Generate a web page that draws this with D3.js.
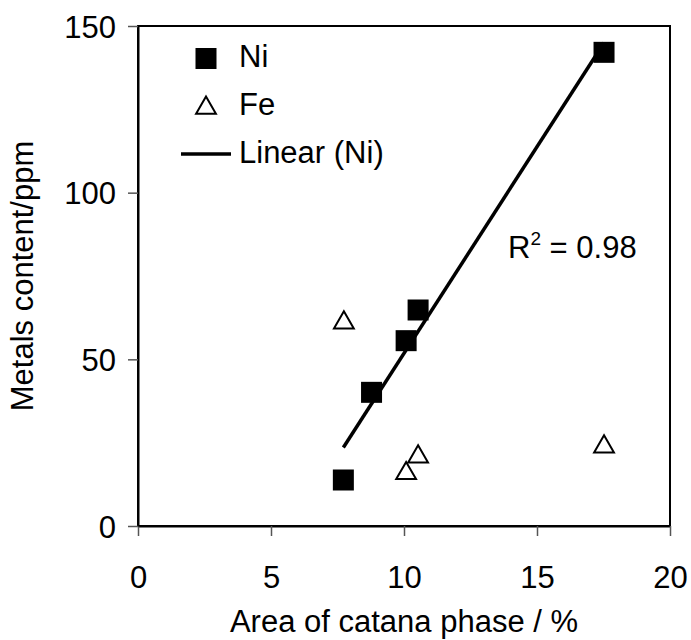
<!DOCTYPE html>
<html>
<head>
<meta charset="utf-8">
<script src="https://cdn.jsdelivr.net/npm/d3@7"></script>
<style>
  body { margin: 0; background: #fff; }
  text { font-family: "Liberation Sans", Arial, sans-serif; fill: #000; }
</style>
</head>
<body>
<div id="chart"></div>
<script>
// values
const niArea = [7.72, 8.78, 10.08, 10.53, 17.52];
const niContent = [13.8, 40.1, 55.6, 64.8, 142.1];
const feArea = [7.74, 10.08, 10.53, 17.52];
const feContent = [61, 15.8, 20.8, 23.8];
const xTicks = [0, 5, 10, 15, 20];
const yTicks = [0, 50, 100, 150];
const legendLabels = ["Ni", "Fe", "Linear (Ni)"];

const config = { width: 691, height: 640, left: 138, right: 670, top: 26, bottom: 526, font: 31 };

const svg = d3.select("#chart").append("svg")
  .attr("width", config.width)
  .attr("height", config.height);

const xScale = d3.scaleLinear().domain([0, 20]).range([config.left, config.right]);
const yScale = d3.scaleLinear().domain([0, 150]).range([config.bottom, config.top]);

// frame
svg.append("rect")
  .attr("x", config.left).attr("y", config.top)
  .attr("width", config.right - config.left)
  .attr("height", config.bottom - config.top)
  .attr("fill", "none").attr("stroke", "#000").attr("stroke-width", 2);

const xAxis = svg.append("g")
  .attr("transform", `translate(0,${config.bottom})`)
  .call(d3.axisBottom(xScale).tickValues(xTicks).tickSize(10).tickPadding(30).tickSizeOuter(0));

const yAxis = svg.append("g")
  .attr("transform", `translate(${config.left},0)`)
  .call(d3.axisLeft(yScale).tickValues(yTicks).tickSize(10).tickPadding(12).tickSizeOuter(0));

[xAxis, yAxis].forEach(g => {
  g.select(".domain").attr("stroke", "#000").attr("stroke-width", 2);
  g.selectAll(".tick line").attr("stroke", "#555").attr("stroke-width", 1.5);
  g.selectAll(".tick text")
    .attr("font-size", config.font)
    .attr("font-family", "Liberation Sans, Arial, sans-serif")
    .attr("fill", "#000");
});
yAxis.selectAll(".tick text").attr("dy", "0.36em");

// titles
svg.append("text")
  .attr("x", (config.left + config.right) / 2)
  .attr("y", 632)
  .attr("text-anchor", "middle")
  .attr("font-size", config.font)
  .text("Area of catana phase / %");

svg.append("text")
  .attr("transform", `translate(33,${(config.top + config.bottom) / 2}) rotate(-90)`)
  .attr("text-anchor", "middle")
  .attr("font-size", config.font)
  .text("Metals content/ppm");

// trend line (least squares on Ni)
const n = niArea.length;
const mx = d3.mean(niArea), my = d3.mean(niContent);
let sxy = 0, sxx = 0, syy = 0;
for (let i = 0; i < n; i++) {
  sxy += (niArea[i] - mx) * (niContent[i] - my);
  sxx += (niArea[i] - mx) ** 2;
  syy += (niContent[i] - my) ** 2;
}
const slope = sxy / sxx;
const intercept = my - slope * mx;
const r2 = (sxy * sxy) / (sxx * syy);
const xExtent = d3.extent(niArea);

svg.append("path")
  .datum(xExtent)
  .attr("fill", "none")
  .attr("stroke", "#000")
  .attr("stroke-width", 3.5)
  .attr("d", d3.line()
    .x(d => xScale(d))
    .y(d => yScale(slope * d + intercept)));

// Fe triangles
const tri = d3.symbol().type(d3.symbolTriangle).size(170);
svg.append("g").selectAll("path")
  .data(feArea.map((d, i) => ({ x: d, y: feContent[i] })))
  .join("path")
  .attr("transform", d => `translate(${xScale(d.x)},${yScale(d.y)})`)
  .attr("d", tri)
  .attr("fill", "#fff")
  .attr("stroke", "#000")
  .attr("stroke-width", 2);

// Ni squares
const sq = 21;
svg.append("g").selectAll("rect")
  .data(niArea.map((d, i) => ({ x: d, y: niContent[i] })))
  .join("rect")
  .attr("x", d => xScale(d.x) - sq / 2)
  .attr("y", d => yScale(d.y) - sq / 2)
  .attr("width", sq).attr("height", sq)
  .attr("fill", "#000");

// R² label
const r2Text = svg.append("text")
  .attr("x", 508).attr("y", 258)
  .attr("font-size", config.font);
r2Text.append("tspan").text("R");
r2Text.append("tspan").attr("font-size", 19).attr("dy", -13).text("2");
r2Text.append("tspan").attr("dy", 13).text(" = " + r2.toFixed(2));

// legend
const legend = svg.append("g");
legend.append("rect")
  .attr("x", 206 - sq / 2).attr("y", 58.5 - sq / 2)
  .attr("width", sq).attr("height", sq).attr("fill", "#000");
legend.append("path")
  .attr("transform", "translate(206,108)")
  .attr("d", tri)
  .attr("fill", "#fff").attr("stroke", "#000").attr("stroke-width", 2);
legend.append("line")
  .attr("x1", 181).attr("x2", 231).attr("y1", 154).attr("y2", 154)
  .attr("stroke", "#000").attr("stroke-width", 3.5);
legend.selectAll("text.lbl")
  .data(legendLabels)
  .join("text")
  .attr("class", "lbl")
  .attr("x", 239)
  .attr("y", (d, i) => [67, 115, 163][i])
  .attr("font-size", config.font)
  .text(d => d);
</script>
</body>
</html>
